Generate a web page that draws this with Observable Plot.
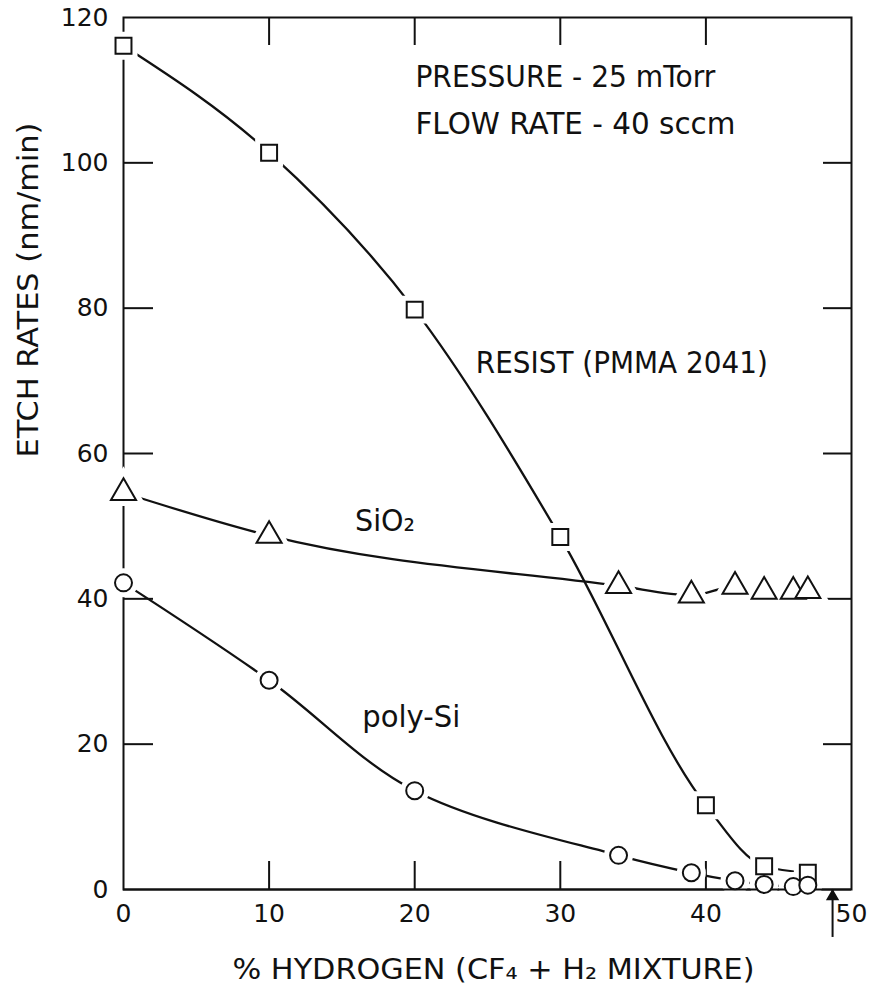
<!DOCTYPE html>
<html>
<head>
<meta charset="utf-8">
<script src="https://cdn.jsdelivr.net/npm/d3@7"></script>
<script src="https://cdn.jsdelivr.net/npm/@observablehq/plot@0.6"></script>
<style>
  html, body { margin: 0; padding: 0; background: #fff; }
  #chart svg { display: block; }
</style>
</head>
<body>
<div id="chart"></div>
<script>
// ---- data ----
const resistX = [0, 10, 20, 30, 40, 44, 47];
const resistY = [116.1, 101.4, 79.8, 48.5, 11.6, 3.2, 2.3];
const sio2X = [0, 10, 34, 39, 42, 44, 46, 47];
const sio2Y = [54.6, 48.7, 41.8, 40.5, 41.7, 41.0, 41.0, 41.1];
const polyX = [0, 10, 20, 34, 39, 42, 44, 46, 47];
const polyY = [42.2, 28.8, 13.6, 4.7, 2.3, 1.2, 0.7, 0.4, 0.6];

const xTickLabels = [0, 10, 20, 30, 40, 50];
const yTickLabels = [0, 20, 40, 60, 80, 100, 120];
const xInnerTicks = [10, 20, 30, 40];
const yInnerTicks = [20, 40, 60, 80, 100];
const arrowMark = [48.7];

const xTitle = "% HYDROGEN (CF\u2084 + H\u2082 MIXTURE)";
const yTitle = "ETCH RATES (nm/min)";

// annotations (text and anchor in data units)
const noteText = ["PRESSURE - 25 mTorr", "FLOW RATE - 40 sccm", "RESIST (PMMA 2041)", "SiO\u2082", "poly-Si"];
const noteX = [20.05, 20.05, 24.2, 15.9, 16.4];
const noteY = [110.4, 104.0, 71.1, 49.4, 22.3];

// ---- layout ----
const W = 872, H = 985;
const mL = 123, mR = 21, mT = 17, mB = 96;
const fw = W - mL - mR, fh = H - mT - mB;
const tickLen = 28;
const ink = "#111";

const rows = (xs, ys) => xs.map((x, i) => ({x, y: ys[i]}));
const resist = rows(resistX, resistY);
const sio2 = rows(sio2X, sio2Y);
const poly = rows(polyX, polyY);
const notes = noteText.map((t, i) => ({t, x: noteX[i], y: noteY[i]}));

const series = [
  {data: resist, symbol: "square", r: 9, curve: "monotone-x"},
  {data: sio2, symbol: "triangle", r: 9.3, curve: "monotone-x"},
  {data: poly, symbol: "circle", r: 8.5, curve: "catmull-rom"}
];

const plot = Plot.plot({
  width: W, height: H,
  marginLeft: mL, marginRight: mR, marginTop: mT, marginBottom: mB,
  x: {domain: [0, 50], axis: null},
  y: {domain: [0, 120], axis: null},
  style: {fontFamily: "'DejaVu Sans', sans-serif", fontSize: "24px", color: ink, background: "#fff", overflow: "visible"},
  marks: [
    Plot.frame({stroke: ink, strokeWidth: 2}),
    Plot.tickX(xInnerTicks, {x: d => d, insetTop: fh - tickLen, stroke: ink, strokeWidth: 2}),
    Plot.tickX(xInnerTicks, {x: d => d, insetBottom: fh - tickLen, stroke: ink, strokeWidth: 2}),
    Plot.tickY(yInnerTicks, {y: d => d, insetRight: fw - 30, stroke: ink, strokeWidth: 2}),
    Plot.tickY(yInnerTicks, {y: d => d, insetLeft: fw - tickLen, stroke: ink, strokeWidth: 2}),
    Plot.axisX({ticks: xTickLabels, tickSize: 0, tickPadding: 15, fontSize: 25, label: null, fill: ink}),
    Plot.axisY({ticks: yTickLabels, tickSize: 0, tickPadding: 15, fontSize: 25, label: null, fill: ink}),
    ...series.map(s => Plot.line(s.data, {x: "x", y: "y", curve: s.curve, stroke: ink, strokeWidth: 2.3})),
    ...series.map(s => Plot.dot(s.data, {x: "x", y: "y", symbol: s.symbol, r: s.r, fill: "#fff", stroke: "#fff", strokeWidth: 12})),
    Plot.ruleY([0], {stroke: ink, strokeWidth: 2}),
    ...series.map(s => Plot.dot(s.data, {x: "x", y: "y", symbol: s.symbol, r: s.r, fill: "#fff", stroke: ink, strokeWidth: 2})),
    Plot.text(notes, {x: "x", y: "y", text: "t", textAnchor: "start", lineAnchor: "bottom", fontSize: 30, fill: ink}),
    Plot.text([xTitle], {text: d => d, frameAnchor: "bottom", dx: 6, dy: 89, lineAnchor: "bottom", fontSize: 28, fill: ink}),
    Plot.text([yTitle], {text: d => d, frameAnchor: "left", dx: -86, dy: 4, rotate: -90, lineAnchor: "bottom", fontSize: 28, fill: ink}),
    Plot.ruleX(arrowMark, {x: d => d, y1: -6.6, y2: 0, stroke: ink, strokeWidth: 2}),
    Plot.dot(arrowMark, {x: d => d, y: 0, symbol: "triangle", r: 4, fill: ink, stroke: ink, dy: 7})
  ]
});

// stretch / condense lettering widths to match the reference
const widths = {
  "PRESSURE - 25 mTorr": 300,
  "FLOW RATE - 40 sccm": 320,
  "RESIST (PMMA 2041)": 292,
  "SiO\u2082": 60,
  "poly-Si": 98
};
widths[xTitle] = 522;
widths[yTitle] = 335;
d3.select(plot).selectAll("text").each(function() {
  const t = this.textContent;
  if (widths[t]) {
    this.setAttribute("textLength", widths[t]);
    this.setAttribute("lengthAdjust", "spacingAndGlyphs");
  }
});

document.getElementById("chart").appendChild(plot);
</script>
</body>
</html>
